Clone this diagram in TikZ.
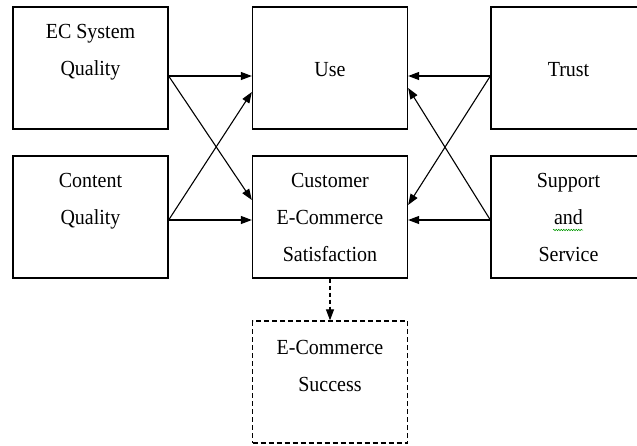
\documentclass[tikz,border=0pt]{standalone}
\usepackage{fontspec}
\setmainfont{Liberation Serif}[FakeStretch=0.93]
\usetikzlibrary{arrows.meta,decorations.pathmorphing}

\begin{document}
\begin{tikzpicture}[x=1pt,y=-1pt,
  box/.style={draw, line width=1.3pt, inner sep=0pt, minimum width=155pt, minimum height=122pt},
  dbox/.style={box, dash pattern=on 5pt off 3pt},
  lbl/.style={anchor=north, inner sep=0pt, align=center, font=\fontsize{21.5}{37}\selectfont},
  link/.style={line width=1.1pt, -{Triangle[length=11pt,width=8pt]}},
  dlink/.style={link, dash pattern=on 4pt off 3pt},
]
\clip (0,0) rectangle (637,445);
\fill[white] (0,0) rectangle (637,445);

% boxes
\node[box] (ecs)   at (90.5,68)  {};
\node[box] (cq)    at (90.5,217) {};
\node[box] (use)   at (330,68)   {};
\node[box] (cecs)  at (330,217)  {};
\node[box] (trust) at (568.5,68) {};
\node[box] (sup)   at (568.5,217){};
\node[dbox] (succ) at (330,382)  {};

% labels
\node[lbl] (ecsT)   at ([yshift=-17.4pt]ecs.north)   {EC System\\Quality};
\node[lbl] (cqT)    at ([yshift=-17.4pt]cq.north)    {Content\\Quality};
\node[lbl] (useT)   at ([yshift=-55.4pt]use.north)   {Use};
\node[lbl] (cecsT)  at ([yshift=-17.4pt]cecs.north)  {Customer\\E-Commerce\\Satisfaction};
\node[lbl] (trustT) at ([yshift=-55.4pt]trust.north) {Trust};
\node[lbl] (supT)   at ([yshift=-17.4pt]sup.north)   {Support\\and\\Service};
\node[lbl] (succT)  at ([yshift=-19.4pt]succ.north)  {E-Commerce\\Success};

% spell-check squiggle under "and"
\draw[green!60!black, line width=0.5pt, decorate,
      decoration={snake, amplitude=0.8pt, segment length=2.5pt}]
  (553,230) -- (583,230);

% connectors
\draw[link] ([yshift=-8pt]ecs.east) -- ([yshift=-8pt]use.west);
\draw[link] ([yshift=-8pt]ecs.east) -- ([yshift=17pt]cecs.west);
\draw[link] ([yshift=-3pt]cq.east)  -- ([yshift=-3pt]cecs.west);
\draw[link] ([yshift=-3pt]cq.east)  -- ([yshift=-24pt]use.west);
\draw[link] ([yshift=-8pt]trust.west) -- ([yshift=-8pt]use.east);
\draw[link] ([yshift=-8pt]trust.west) -- ([yshift=12pt]cecs.east);
\draw[link] ([yshift=-3pt]sup.west)   -- ([yshift=-3pt]cecs.east);
\draw[link] ([yshift=-3pt]sup.west)   -- ([yshift=-20pt]use.east);
\draw[dlink] (cecs.south) -- (succ.north);
\end{tikzpicture}
\end{document}
